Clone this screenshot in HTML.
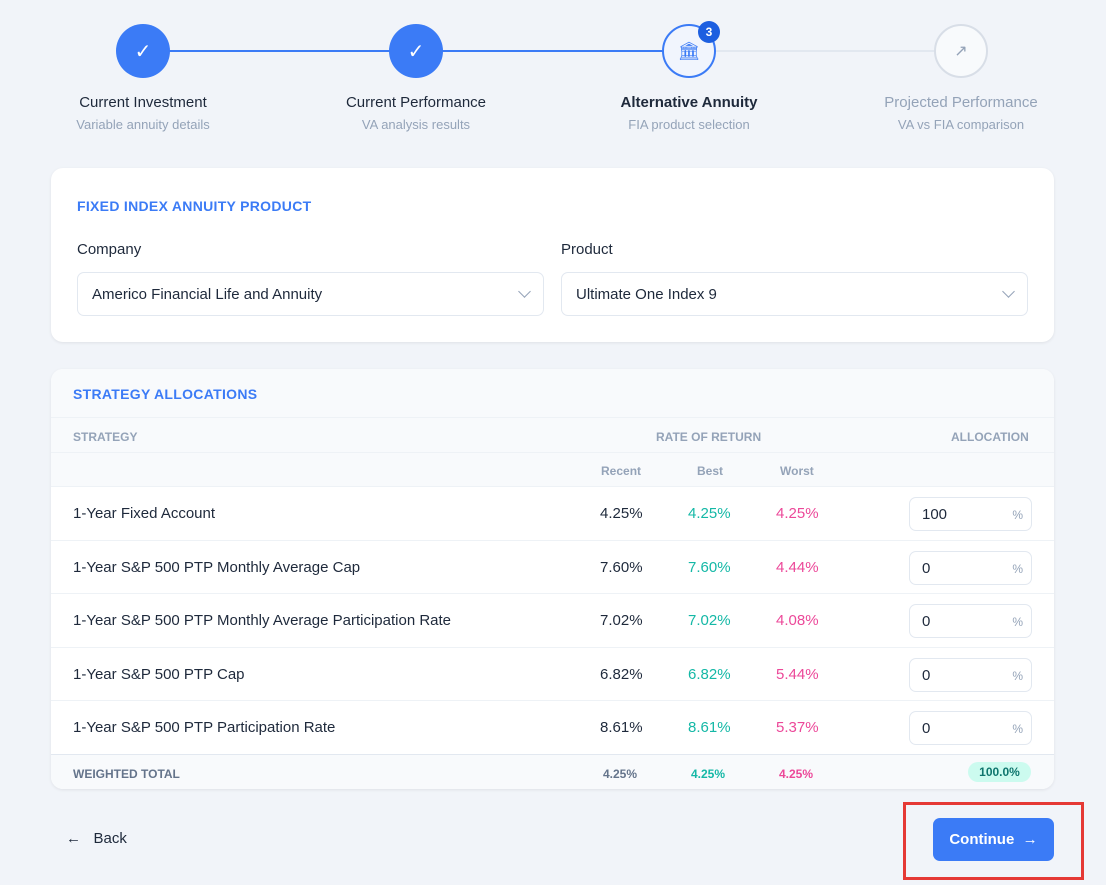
<!DOCTYPE html>
<html><head><meta charset="utf-8"><style>
*{box-sizing:border-box;margin:0;padding:0}
body{width:1106px;height:885px;background:#f1f4f9;font-family:"Liberation Sans",sans-serif;position:relative;overflow:hidden;color:#1e293b}
.a{position:absolute}
.circ{position:absolute;width:54px;height:54px;border-radius:50%;top:24px;display:flex;align-items:center;justify-content:center}
.lbl{position:absolute;width:240px;text-align:center;font-size:15px;top:94px}
.sub{position:absolute;width:240px;text-align:center;font-size:13px;color:#94a3b8;top:117px}
.card{position:absolute;left:51px;width:1003px;background:#fff;border-radius:12px;box-shadow:0 1px 3px rgba(0,0,0,.08);overflow:hidden}
.sel{position:absolute;top:104px;height:44px;border:1px solid #e2e8f0;border-radius:7px;font-size:15px;padding:13px 14px}
.chev{position:absolute;right:14px;top:14px;width:9px;height:9px;border-right:1.5px solid #94a3b8;border-bottom:1.5px solid #94a3b8;transform:rotate(45deg)}
.row{position:absolute;left:0;width:1003px;height:54px;border-top:1px solid #eef2f6;font-size:15px}
.row span{position:absolute;top:18px}
.inp{position:absolute;left:858px;top:10px;width:123px;height:34px;border:1px solid #e2e8f0;border-radius:7px;font-size:15px;padding:8px 12px}
.inp i{position:absolute;right:8px;top:10px;font-style:normal;font-size:12px;color:#94a3b8}
.hd{font-size:12px;font-weight:bold;color:#94a3b8;position:absolute}
</style></head><body>
<div class="a" style="left:169px;top:50px;width:222px;height:2px;background:#3b7bf6"></div>
<div class="a" style="left:442px;top:50px;width:222px;height:2px;background:#3b7bf6"></div>
<div class="a" style="left:715px;top:50px;width:221px;height:2px;background:#e2e8f0"></div>
<div class="circ" style="left:116px;background:#3b7bf6;color:#fff;font-size:20px">✓</div>
<div class="circ" style="left:389px;background:#3b7bf6;color:#fff;font-size:20px">✓</div>
<div class="circ" style="left:662px;background:#f1f5fd;border:2px solid #3b7bf6;color:#3b7bf6;font-size:18px">🏛</div>
<div class="a" style="left:698px;top:21px;width:22px;height:22px;border-radius:50%;background:#1d5fe0;color:#fff;font-size:12px;font-weight:bold;text-align:center;line-height:22px">3</div>
<div class="circ" style="left:934px;background:#f8fafc;border:2px solid #d8dee7;color:#94a3b8;font-size:16px">↗</div>
<div class="lbl" style="left:23px">Current Investment</div>
<div class="sub" style="left:23px">Variable annuity details</div>
<div class="lbl" style="left:296px">Current Performance</div>
<div class="sub" style="left:296px">VA analysis results</div>
<div class="lbl" style="left:569px;font-weight:bold">Alternative Annuity</div>
<div class="sub" style="left:569px">FIA product selection</div>
<div class="lbl" style="left:841px;color:#94a3b8">Projected Performance</div>
<div class="sub" style="left:841px">VA vs FIA comparison</div>

<div class="card" style="top:168px;height:174px">
<div class="a" style="left:26px;top:30px;font-size:14px;font-weight:bold;color:#3b7bf6;letter-spacing:.3px">FIXED INDEX ANNUITY PRODUCT</div>
<div class="a" style="left:26px;top:73px;font-size:15px">Company</div>
<div class="a" style="left:510px;top:73px;font-size:15px">Product</div>
<div class="sel" style="left:26px;width:467px">Americo Financial Life and Annuity<div class="chev"></div></div>
<div class="sel" style="left:510px;width:467px">Ultimate One Index 9<div class="chev"></div></div>
</div>

<div class="card" style="top:369px;height:420px">
<div class="a" style="left:0;top:0;width:1003px;height:117px;background:#f8fafc"></div>
<div class="a" style="left:22px;top:17px;font-size:14px;font-weight:bold;color:#3b7bf6;letter-spacing:.3px">STRATEGY ALLOCATIONS</div>
<div class="a" style="left:0;top:48px;width:1003px;height:1px;background:#eef2f6"></div>
<div class="hd" style="left:22px;top:61px">STRATEGY</div>
<div class="hd" style="left:605px;top:61px">RATE OF RETURN</div>
<div class="hd" style="left:900px;top:61px">ALLOCATION</div>
<div class="a" style="left:0;top:83px;width:1003px;height:1px;background:#eef2f6"></div>
<div class="hd" style="left:550px;top:95px">Recent</div>
<div class="hd" style="left:646px;top:95px">Best</div>
<div class="hd" style="left:729px;top:95px">Worst</div>
<div id="rows"></div>
<div class="a" style="left:0;top:385px;width:1003px;height:35px;background:#f8fafc;border-top:1px solid #e2e8f0;font-size:12px;font-weight:bold">
<span class="a" style="left:22px;top:12px;color:#64748b">WEIGHTED TOTAL</span>
<span class="a" style="left:552px;top:12px;color:#64748b">4.25%</span>
<span class="a" style="left:640px;top:12px;color:#14b8a6">4.25%</span>
<span class="a" style="left:728px;top:12px;color:#ec4899">4.25%</span>
<span class="a" style="left:917px;top:7px;width:63px;height:20px;border-radius:10px;background:#ccfbef;color:#0f766e;text-align:center;line-height:20px">100.0%</span>
</div>
</div>

<div class="a" style="left:66px;top:830px;font-size:15px">←&nbsp;&nbsp; Back</div>
<div class="a" style="left:933px;top:818px;width:121px;height:43px;border-radius:7px;background:#3b7bf6;color:#fff;font-size:15px;font-weight:bold;text-align:center;line-height:43px">Continue&nbsp; →</div>
<div class="a" style="left:903px;top:802px;width:181px;height:78px;border:3px solid #e53935"></div>
<script>
const names=["1-Year Fixed Account","1-Year S&P 500 PTP Monthly Average Cap","1-Year S&P 500 PTP Monthly Average Participation Rate","1-Year S&P 500 PTP Cap","1-Year S&P 500 PTP Participation Rate"];
const recent=["4.25%","7.60%","7.02%","6.82%","8.61%"];
const best=["4.25%","7.60%","7.02%","6.82%","8.61%"];
const worst=["4.25%","4.44%","4.08%","5.44%","5.37%"];
const alloc=["100","0","0","0","0"];
const c=document.getElementById('rows');
names.forEach((n,i)=>{
const r=document.createElement('div');r.className='row';r.style.top=(117+i*53.6)+'px';


r.innerHTML=`<span style="left:22px">${n.replace('&','&amp;')}</span><span style="left:549px">${recent[i]}</span><span style="left:637px;color:#14b8a6">${best[i]}</span><span style="left:725px;color:#ec4899">${worst[i]}</span><div class="inp">${alloc[i]}<i>%</i></div>`;
c.appendChild(r);
});
</script>
</body></html>
